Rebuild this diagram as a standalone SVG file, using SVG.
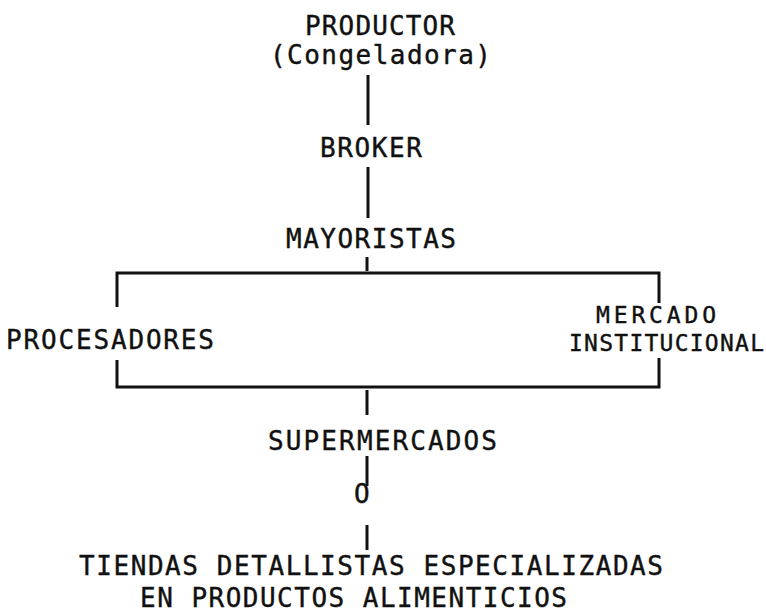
<svg xmlns="http://www.w3.org/2000/svg" width="766" height="613" viewBox="0 0 766 613">
<style>
text{font-family:"DejaVu Sans Mono","Liberation Mono",monospace;font-size:26px;fill:#111;stroke:#111;stroke-width:0.4;}
.s{font-size:23px;}
line,path{stroke:#111;stroke-width:3;fill:none;}
</style>
<rect width="766" height="613" fill="#fff"/>
<g id="connectors">
<line x1="368" y1="75" x2="368" y2="125"/>
<line x1="368" y1="167" x2="368" y2="218"/>
<line x1="367" y1="257" x2="367" y2="271"/>
<path d="M117 307 V273 H659 V303"/>
<path d="M117 360 V387 H659 V358"/>
<line x1="367" y1="390" x2="367" y2="415"/>
<line x1="367" y1="456" x2="367" y2="486"/>
<line x1="367" y1="525" x2="367" y2="550"/>
</g>
<g id="productor">
<text x="305" y="35" textLength="150" lengthAdjust="spacing">PRODUCTOR</text>
<text x="270" y="64" textLength="221" lengthAdjust="spacing">(Congeladora)</text>
</g>
<g id="broker"><text x="320" y="157" textLength="102" lengthAdjust="spacing">BROKER</text></g>
<g id="mayoristas"><text x="286" y="248" textLength="170" lengthAdjust="spacing">MAYORISTAS</text></g>
<g id="procesadores"><text x="6" y="349" textLength="208" lengthAdjust="spacing">PROCESADORES</text></g>
<g id="mercado">
<text class="s" x="596" y="323" textLength="120" lengthAdjust="spacing">MERCADO</text>
<text class="s" x="569" y="351" textLength="195" lengthAdjust="spacing">INSTITUCIONAL</text>
</g>
<g id="supermercados"><text x="268" y="450" textLength="229" lengthAdjust="spacing">SUPERMERCADOS</text></g>
<g id="o"><text x="354" y="503">O</text></g>
<g id="tiendas">
<text x="79" y="575" textLength="584" lengthAdjust="spacing">TIENDAS DETALLISTAS ESPECIALIZADAS</text>
<text x="140" y="607" textLength="427" lengthAdjust="spacing">EN PRODUCTOS ALIMENTICIOS</text>
</g>
</svg>
